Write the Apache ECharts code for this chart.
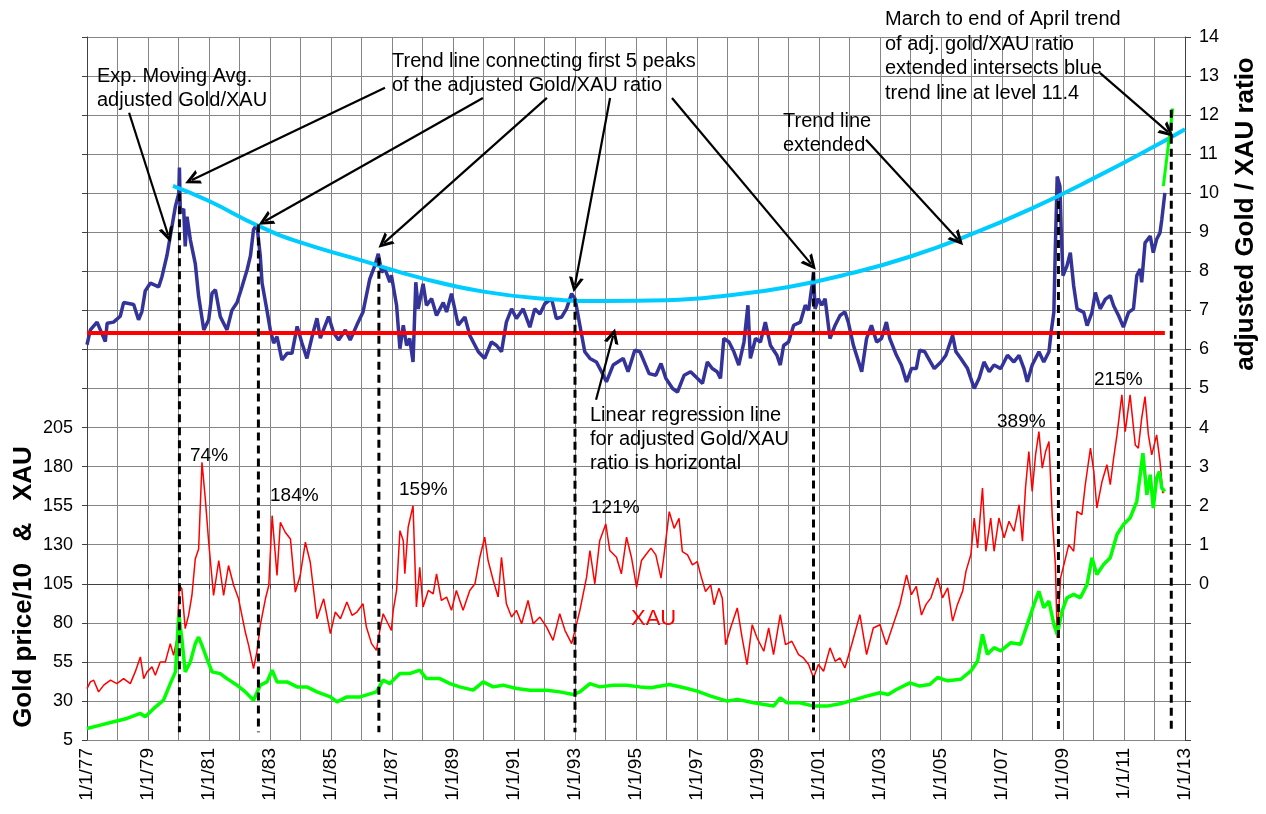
<!DOCTYPE html>
<html>
<head>
<meta charset="utf-8">
<title>Gold / XAU ratio</title>
<script src="https://cdn.jsdelivr.net/npm/echarts@6/dist/echarts.min.js"></script>
<style>
  html, body { margin: 0; padding: 0; background: #fff; }
  #chart { width: 1266px; height: 814px; }
</style>
</head>
<body>
<div id="chart"></div>
<script>
// 数据: [年份(小数), 值]
// 指数移动平均 adjusted Gold/XAU (右轴)
var ratioEma = [
  [1977.00,6.12],[1977.11,6.50],[1977.33,6.70],[1977.60,6.20],[1977.66,6.67],[1977.87,6.70],[1978.09,6.85],[1978.20,7.20],
  [1978.53,7.15],[1978.69,6.76],[1978.80,6.97],[1978.91,7.50],[1979.08,7.70],[1979.35,7.60],[1979.46,7.87],[1979.62,8.40],
  [1979.73,8.90],[1979.90,9.67],[1980.01,10.00],[1980.03,10.66],[1980.06,9.50],[1980.17,9.60],[1980.22,8.64],[1980.28,9.40],
  [1980.39,8.80],[1980.55,8.20],[1980.66,7.36],[1980.83,6.50],[1980.99,6.76],[1981.10,7.44],[1981.21,7.53],[1981.37,6.84],
  [1981.59,6.50],[1981.75,7.00],[1981.92,7.20],[1982.08,7.60],[1982.25,8.04],[1982.36,8.40],[1982.46,9.07],[1982.57,9.20],
  [1982.68,8.40],[1982.74,7.70],[1982.90,7.00],[1983.01,6.50],[1983.12,6.16],[1983.23,6.33],[1983.39,5.73],[1983.56,5.90],
  [1983.72,5.90],[1983.89,6.59],[1984.05,6.16],[1984.21,5.77],[1984.38,6.33],[1984.54,6.80],[1984.65,6.29],[1984.92,6.84],
  [1985.09,6.42],[1985.25,6.24],[1985.47,6.50],[1985.63,6.24],[1985.85,6.63],
  [1986.05,6.96],[1986.27,7.80],[1986.44,8.15],[1986.55,8.45],[1986.66,7.98],[1986.77,8.06],[1986.93,7.72],[1986.98,7.90],
  [1987.15,7.13],[1987.26,6.02],[1987.37,6.62],[1987.48,6.10],[1987.58,6.28],[1987.69,5.68],[1987.78,7.72],[1987.86,7.04],
  [1988.02,7.68],[1988.13,7.13],[1988.30,7.30],[1988.46,6.87],[1988.68,7.20],[1988.79,6.96],[1988.95,7.43],[1989.17,6.62],
  [1989.39,6.83],[1989.55,6.36],[1989.83,5.94],[1990.04,5.77],[1990.26,6.19],[1990.43,6.10],[1990.59,5.94],[1990.75,6.70],
  [1990.92,7.04],[1991.08,6.79],[1991.30,7.04],[1991.52,6.57],[1991.68,7.04],[1991.85,6.91],[1992.01,7.17],[1992.23,7.30],
  [1992.39,6.79],[1992.56,6.83],[1992.72,7.04],[1992.89,7.43],[1993.00,7.30],[1993.16,6.62],[1993.32,5.94],[1993.49,5.77],
  [1993.70,5.68],[1993.87,5.43],[1994.03,5.17],[1994.25,5.60],[1994.58,5.77],[1994.74,5.43],[1994.96,5.98],[1995.13,5.94],
  [1995.27,5.68],[1995.43,5.38],[1995.65,5.34],[1995.82,5.64],[1995.98,5.26],[1996.20,5.00],[1996.36,4.91],[1996.58,5.34],
  [1996.79,5.43],[1997.01,5.26],[1997.18,5.13],[1997.34,5.68],[1997.50,5.51],[1997.66,5.43],[1997.77,5.26],[1997.88,6.28],
  [1998.05,6.19],[1998.21,5.94],[1998.37,5.60],[1998.54,6.19],[1998.67,7.13],[1998.75,5.77],[1998.92,6.28],[1999.08,6.19],
  [1999.24,6.70],[1999.41,6.10],[1999.62,5.85],[1999.73,5.60],[1999.84,6.10],[2000.00,6.19],[2000.17,6.62],[2000.39,6.70],
  [2000.55,7.13],[2000.66,7.00],[2000.77,7.64],[2000.82,7.98],[2000.87,7.04],[2000.98,7.30],[2001.09,7.13],[2001.20,7.30],
  [2001.36,6.28],[2001.53,6.62],[2001.69,6.87],[2001.85,6.96],[2001.96,6.70],[2002.13,6.10],[2002.40,5.43],[2002.56,6.28],
  [2002.72,6.62],[2002.89,6.19],[2003.05,6.28],[2003.21,6.70],[2003.32,6.28],[2003.54,5.85],[2003.70,5.60],[2003.87,5.17],
  [2004.03,5.51],[2004.19,5.51],[2004.30,5.98],[2004.47,5.94],[2004.56,5.81],[2004.78,5.51],[2005.00,5.68],[2005.16,5.85],
  [2005.38,6.36],[2005.49,5.94],[2005.65,5.77],[2005.87,5.51],[2006.09,5.00],[2006.25,5.26],[2006.41,5.68],[2006.58,5.43],
  [2006.74,5.60],[2006.96,5.51],[2007.18,5.85],[2007.39,5.68],[2007.56,5.85],[2007.72,5.51],[2007.83,5.17],[2007.99,5.60],
  [2008.21,5.94],[2008.37,5.68],[2008.54,5.94],[2008.61,6.44],[2008.70,6.95],[2008.75,8.65],[2008.81,10.43],[2008.90,10.18],
  [2008.94,9.07],[2009.00,7.89],[2009.13,8.14],[2009.24,8.48],[2009.35,7.63],[2009.46,7.04],[2009.68,6.95],[2009.79,6.61],
  [2009.95,6.95],[2010.06,7.46],[2010.22,7.04],[2010.39,7.29],[2010.55,7.38],[2010.66,7.12],[2010.82,6.87],[2010.98,6.57],
  [2011.15,6.95],[2011.31,7.04],[2011.42,7.89],[2011.53,8.06],[2011.58,7.72],[2011.69,8.73],[2011.86,8.90],[2011.96,8.48],
  [2012.07,8.82],[2012.18,8.99],[2012.24,9.33],[2012.34,10.01]
];

// XAU 指数 (左轴)
var xau = [
  [1977.00,37.9],[1977.11,42.2],[1977.22,43.3],[1977.38,35.8],[1977.55,40.1],[1977.77,43.3],[1977.98,41.1],[1978.20,44.3],
  [1978.42,41.1],[1978.58,48.6],[1978.75,58.2],[1978.86,44.3],[1978.97,48.6],[1979.13,51.8],[1979.24,46.5],[1979.40,55.0],
  [1979.57,55.0],[1979.73,66.7],[1979.84,59.2],[1979.95,69.9],[1980.03,103.9],[1980.11,101.8],[1980.22,76.3],[1980.33,84.8],
  [1980.44,97.5],[1980.55,120.9],[1980.66,127.3],[1980.77,182.7],[1980.88,159.2],[1980.99,131.6],[1981.15,97.5],[1981.32,119.9],
  [1981.48,97.5],[1981.64,116.7],[1981.81,103.9],[1981.97,95.4],[1982.19,74.1],[1982.30,65.6],[1982.46,50.7],[1982.57,61.4],
  [1982.68,78.4],[1982.85,95.4],[1982.96,103.9],[1983.07,148.6],[1983.23,110.3],[1983.34,144.4],[1983.50,138.0],[1983.67,133.7],
  [1983.83,99.7],[1983.99,110.3],[1984.16,131.6],[1984.32,118.8],[1984.54,82.6],[1984.76,95.4],[1984.98,73.1],[1985.14,86.9],
  [1985.31,82.6],[1985.52,93.3],[1985.69,84.8],[1985.85,86.9],[1986.05,92.2],[1986.16,77.3],[1986.33,66.7],[1986.49,62.4],
  [1986.60,75.2],[1986.71,85.8],[1986.87,79.4],[1986.98,75.2],[1987.04,88.0],[1987.15,100.7],[1987.26,139.0],[1987.37,132.6],
  [1987.42,111.4],[1987.53,141.2],[1987.69,155.0],[1987.80,90.1],[1987.91,115.6],[1988.02,90.1],[1988.19,100.7],[1988.35,98.6],
  [1988.46,111.4],[1988.62,94.3],[1988.79,96.5],[1988.95,88.0],[1989.11,100.7],[1989.33,88.0],[1989.55,100.7],[1989.72,105.0],
  [1989.88,122.0],[1990.04,134.8],[1990.15,119.9],[1990.32,107.1],[1990.48,96.5],[1990.59,122.0],[1990.75,92.2],[1990.92,83.7],
  [1991.08,88.0],[1991.25,79.4],[1991.46,94.3],[1991.63,79.4],[1991.85,83.7],[1992.07,77.3],[1992.28,68.8],[1992.50,85.8],
  [1992.67,75.2],[1992.89,66.7],[1993.00,75.2],[1993.16,88.0],[1993.38,109.2],[1993.49,126.3],[1993.65,105.0],[1993.81,132.6],
  [1994.01,143.3],[1994.14,126.3],[1994.36,122.0],[1994.52,111.4],[1994.69,134.8],[1994.85,122.0],[1995.02,102.9],[1995.18,119.9],
  [1995.34,124.1],[1995.49,127.8],[1995.65,123.5],[1995.82,108.6],[1995.92,123.5],[1996.09,151.2],[1996.25,140.5],[1996.41,146.9],
  [1996.52,125.6],[1996.69,123.5],[1996.85,117.1],[1997.01,119.2],[1997.12,110.7],[1997.28,100.1],[1997.45,104.3],[1997.56,91.6],
  [1997.72,102.2],[1997.83,95.8],[1997.94,66.0],[1998.10,76.7],[1998.32,89.5],[1998.48,70.3],[1998.64,53.3],[1998.81,78.8],
  [1998.97,70.3],[1999.19,61.8],[1999.35,76.7],[1999.51,59.7],[1999.73,85.2],[1999.90,66.0],[2000.11,68.2],[2000.33,59.7],
  [2000.49,57.5],[2000.66,53.3],[2000.82,44.8],[2000.98,53.3],[2001.15,49.0],[2001.36,64.0],[2001.53,55.4],[2001.69,57.5],
  [2001.85,51.1],[2002.07,66.0],[2002.34,85.2],[2002.56,59.7],[2002.78,76.7],[2003.00,78.8],[2003.21,66.0],[2003.43,78.8],
  [2003.65,91.6],[2003.87,110.7],[2004.03,98.0],[2004.19,103.3],[2004.36,85.0],[2004.51,91.8],[2004.67,96.0],[2004.89,108.8],
  [2005.05,96.0],[2005.22,102.4],[2005.38,81.1],[2005.54,91.8],[2005.71,100.3],[2005.82,113.1],[2005.98,123.7],[2006.09,147.1],
  [2006.20,128.0],[2006.36,166.3],[2006.47,125.8],[2006.63,147.1],[2006.74,125.8],[2006.90,147.1],[2007.07,134.4],[2007.23,145.0],
  [2007.39,138.6],[2007.56,155.6],[2007.67,132.2],[2007.77,166.3],[2007.88,189.7],[2007.99,164.1],[2008.10,187.5],[2008.21,202.4],
  [2008.32,179.0],[2008.43,189.7],[2008.54,196.1],[2008.65,147.1],[2008.75,117.3],[2008.81,70.5],[2008.92,108.8],[2009.03,117.3],
  [2009.19,130.1],[2009.35,125.8],[2009.46,151.4],[2009.62,149.3],[2009.73,168.4],[2009.90,191.8],[2010.01,176.9],[2010.11,153.5],
  [2010.28,170.5],[2010.44,181.2],[2010.55,168.4],[2010.66,185.4],[2010.77,200.3],[2010.93,225.9],[2011.04,202.4],[2011.20,225.9],
  [2011.37,193.9],[2011.47,191.8],[2011.58,211.0],[2011.69,224.8],[2011.80,200.3],[2011.91,187.5],[2012.07,200.3],[2012.18,183.3],
  [2012.27,163.1],[2012.31,164.1]
];

// 金价/10 (左轴)
var goldTenth = [
  [1977.00,12.4],[1977.44,14.5],[1977.87,16.7],[1978.31,18.8],[1978.75,22.0],[1978.91,19.9],[1979.19,25.2],[1979.51,30.5],
  [1979.73,41.1],[1979.90,48.6],[1980.01,84.8],[1980.11,69.9],[1980.22,48.6],[1980.39,55.0],[1980.55,66.7],[1980.66,70.9],
  [1980.77,65.6],[1980.93,57.1],[1981.10,48.6],[1981.37,47.5],[1981.59,44.3],[1981.92,40.1],[1982.19,35.8],[1982.46,30.5],
  [1982.68,40.1],[1982.90,42.2],[1983.07,49.7],[1983.23,42.2],[1983.56,42.2],[1983.89,39.0],[1984.21,39.0],[1984.54,35.8],
  [1984.98,32.6],[1985.20,29.4],[1985.52,32.6],[1985.96,32.6],[1986.49,35.8],[1986.71,43.3],[1986.93,41.1],[1987.26,47.5],
  [1987.58,47.5],[1987.91,49.7],[1988.13,44.3],[1988.57,44.3],[1988.90,41.1],[1989.22,39.0],[1989.66,36.9],[1989.99,42.2],
  [1990.32,39.0],[1990.64,40.1],[1991.08,38.0],[1991.52,36.9],[1992.07,36.9],[1992.50,35.8],[1992.94,34.1],[1993.16,35.8],
  [1993.49,41.1],[1993.81,39.0],[1994.25,40.1],[1994.69,40.1],[1995.13,39.0],[1995.49,38.4],[1996.09,40.5],[1996.58,38.4],
  [1997.01,36.3],[1997.45,33.1],[1997.99,29.9],[1998.32,31.0],[1998.86,28.8],[1999.51,26.7],[1999.73,32.0],[1999.95,28.8],
  [2000.38,28.8],[2000.82,26.7],[2001.26,26.7],[2001.69,28.2],[2002.01,29.9],[2002.56,33.1],[2003.00,35.2],[2003.27,34.1],
  [2003.54,37.3],[2003.98,41.6],[2004.30,39.5],[2004.63,40.5],[2004.89,45.0],[2005.22,42.9],[2005.65,43.9],[2005.98,49.2],
  [2006.20,55.6],[2006.36,72.6],[2006.52,59.9],[2006.74,64.1],[2006.96,62.0],[2007.29,67.3],[2007.61,66.3],[2007.83,79.0],
  [2008.05,91.8],[2008.21,100.3],[2008.37,89.7],[2008.54,93.9],[2008.70,79.0],[2008.81,72.6],[2008.97,87.5],[2009.13,96.0],
  [2009.35,98.2],[2009.57,96.0],[2009.79,104.6],[2009.95,121.6],[2010.11,111.0],[2010.33,117.3],[2010.55,121.6],[2010.77,136.5],
  [2010.98,142.9],[2011.20,147.1],[2011.42,157.8],[2011.62,188.6],[2011.75,162.0],[2011.86,174.8],[2011.96,153.5],[2012.07,172.7],
  [2012.16,176.9],[2012.24,166.3],[2012.34,164.1]
];

// 前5个峰值连接的趋势线 (右轴)
var trendLine = [
  [1979.82,10.19],[1981,9.80],[1982.63,9.16],[1984,8.74],[1986,8.28],[1988,7.82],[1990,7.48],[1992,7.30],[1994,7.24],
  [1996,7.26],[1998,7.38],[2000,7.60],[2002,7.94],[2004,8.38],[2006,8.95],[2008,9.62],[2010,10.38],[2012,11.20],[2013,11.64]
];
// 线性回归 (水平)
var regressionLine = [[1977, 6.42], [2012.34, 6.42]];
// 3月到4月底趋势延长线
var aprilTrend = [[2012.29, 10.18], [2012.60, 12.17]];

// 黑色虚线竖线
var dashYears = [1980.03, 1982.62, 1986.57, 1993.00, 2000.82, 2008.85, 2012.55];
var dashTops = [10.0, 9.2, 8.35, 7.3, 7.97, 9.8, 12.14];
var dashBottom = -3.8;

// 箭头 [起点, 终点] (右轴坐标)
var arrows = [
  [[1978.38, 12.06], [1979.66, 8.93]],
  [[1986.77, 12.70], [1980.44, 10.34]],
  [[1989.98, 12.44], [1982.84, 9.29]],
  [[1992.08, 12.44], [1986.74, 8.73]],
  [[1994.15, 12.44], [1993.00, 7.65]],
  [[1996.18, 12.44], [2000.74, 8.19]],
  [[2002.54, 11.37], [2005.56, 8.81]],
  [[2010.21, 13.08], [2012.44, 11.57]],
  [[1993.69, 4.71], [1994.25, 6.35]]
];

var FONT = '"Liberation Sans", Arial, sans-serif';
var GRID_COLOR = '#858585';
var AXIS_COLOR = '#404040';

var chart = echarts.init(document.getElementById('chart'));

// 虚线系列
var dashSeries = dashYears.map(function (x, i) {
  return {
    type: 'line', yAxisIndex: 1, showSymbol: false, silent: true, z: 5,
    data: [[x, dashTops[i]], [x, dashBottom]],
    lineStyle: { color: '#000', width: 3, type: [8, 5] }
  };
});

// 文字
function txt(x, y, text, size, opt) {
  opt = opt || {};
  return {
    type: 'text', x: x, y: y, rotation: opt.rotation || 0, z: 100,
    style: {
      text: text,
      font: (opt.bold ? 'bold ' : '') + size + 'px ' + FONT,
      fill: opt.color || '#000',
      lineHeight: opt.lineHeight || size,
      textAlign: opt.align || 'left',
      textVerticalAlign: opt.valign || 'top'
    }
  };
}

var option = {
  animation: false,
  backgroundColor: '#fff',
  grid: { left: 87, right: 81, top: 37, bottom: 74 },
  xAxis: {
    type: 'value', min: 1977, max: 2013, interval: 2,
    axisLine: { show: true, lineStyle: { color: AXIS_COLOR, width: 1 } },
    axisTick: { show: true, length: 5, lineStyle: { color: AXIS_COLOR } },
    axisLabel: {
      rotate: 90, fontSize: 19, color: '#000', fontFamily: FONT, margin: 8,
      formatter: function (v) {
        var yy = Math.round(v) % 100;
        return '1/1/' + (yy < 10 ? '0' + yy : yy);
      }
    },
    splitLine: { show: true, lineStyle: { color: GRID_COLOR, width: 1 } },
    minorTick: { show: false, splitNumber: 2 },
    minorSplitLine: { show: true, lineStyle: { color: GRID_COLOR, width: 1 } }
  },
  yAxis: [
    {
      type: 'value', position: 'left', min: 5, max: 455, interval: 25,
      axisLine: { show: true, lineStyle: { color: AXIS_COLOR } },
      axisTick: { show: true, length: 5, lineStyle: { color: AXIS_COLOR } },
      axisLabel: {
        fontSize: 18, color: '#000', fontFamily: FONT, margin: 14,
        formatter: function (v) { return v <= 205 ? String(v) : ''; }
      },
      splitLine: { show: false }
    },
    {
      type: 'value', position: 'right', min: -4, max: 14, interval: 1,
      axisLine: { show: true, lineStyle: { color: AXIS_COLOR } },
      axisTick: { show: true, length: 6, lineStyle: { color: AXIS_COLOR } },
      axisLabel: {
        fontSize: 18, color: '#000', fontFamily: FONT, margin: 14,
        formatter: function (v) { return v >= 0 ? String(v) : ''; }
      },
      splitLine: { show: true, lineStyle: { color: GRID_COLOR, width: 1 } }
    }
  ],
  graphic: [
    txt(24, 587, 'Gold price/10   &   XAU', 26, { bold: true, rotation: Math.PI / 2, align: 'center', valign: 'middle' }),
    txt(1246, 214, 'adjusted Gold / XAU ratio', 26, { bold: true, rotation: Math.PI / 2, align: 'center', valign: 'middle' }),
    txt(97, 64, 'Exp. Moving Avg.\nadjusted Gold/XAU', 20, { lineHeight: 24 }),
    txt(392, 49, 'Trend line connecting first 5 peaks\nof the adjusted Gold/XAU ratio', 20, { lineHeight: 24 }),
    txt(783, 109, 'Trend line\nextended', 20, { lineHeight: 24 }),
    txt(885, 7, 'March to end of April trend\nof adj. gold/XAU ratio\nextended intersects blue\ntrend line at level 11.4', 20, { lineHeight: 24.7 }),
    txt(590, 403, 'Linear regression line\nfor adjusted Gold/XAU\nratio is horizontal', 20, { lineHeight: 24.3 }),
    txt(190, 456, '74%', 19, { valign: 'middle' }),
    txt(270, 496, '184%', 19, { valign: 'middle' }),
    txt(399, 490, '159%', 19, { valign: 'middle' }),
    txt(591, 508, '121%', 19, { valign: 'middle' }),
    txt(997, 422, '389%', 19, { valign: 'middle' }),
    txt(1094, 380, '215%', 19, { valign: 'middle' }),
    txt(631, 619, 'XAU', 22, { valign: 'middle', color: '#ff0000' })
  ],
  series: [
    {
      name: 'XAU', type: 'line', yAxisIndex: 0, showSymbol: false, silent: true,
      data: xau, lineStyle: { color: '#ff0000', width: 1.5 }
    },
    {
      name: 'Gold/10', type: 'line', yAxisIndex: 0, showSymbol: false, silent: true,
      data: goldTenth, lineStyle: { color: '#00ff00', width: 3.5 }
    },
    {
      name: 'EMA', type: 'line', yAxisIndex: 1, showSymbol: false, silent: true,
      data: ratioEma, lineStyle: { color: '#333399', width: 3.5 }
    },
    {
      name: 'Regression', type: 'line', yAxisIndex: 1, showSymbol: false, silent: true,
      data: regressionLine, lineStyle: { color: '#ff0000', width: 4 },
      markLine: {
        silent: true,
        symbol: ['none', 'path://M0,14 L7,0 L14,14 L10.8,14 L7,6 L3.2,14 Z'],
        symbolSize: [15, 15],
        label: { show: false },
        lineStyle: { color: '#000', width: 2.2, type: 'solid' },
        data: arrows.map(function (a) {
          return [{ coord: a[0] }, { coord: a[1] }];
        })
      }
    },
    {
      name: 'Trend', type: 'line', yAxisIndex: 1, showSymbol: false, silent: true, smooth: true,
      data: trendLine, lineStyle: { color: '#00ccff', width: 4 }
    },
    {
      name: 'April trend', type: 'line', yAxisIndex: 1, showSymbol: false, silent: true,
      data: aprilTrend, lineStyle: { color: '#00ff00', width: 3 }
    }
  ].concat(dashSeries)
};

chart.setOption(option);
</script>
</body>
</html>
